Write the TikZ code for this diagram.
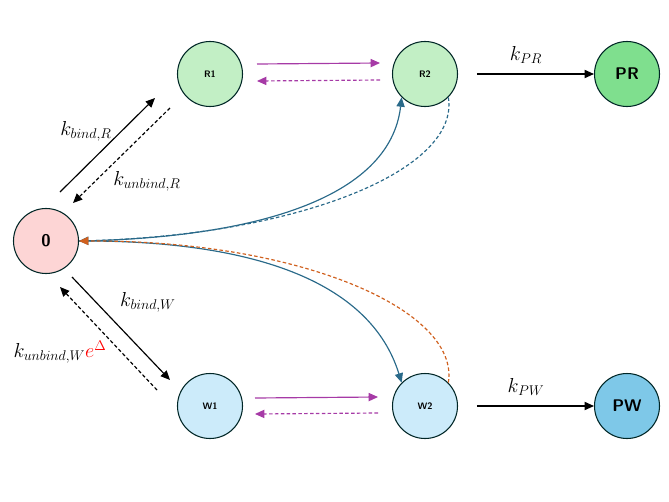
\documentclass[tikz,border=0pt]{standalone}
\usetikzlibrary{arrows.meta}
\begin{document}
\begin{tikzpicture}[x=0.03cm,y=-0.03cm,
 st/.style={circle,draw=black!70!teal,line width=0.9pt,minimum size=1.95cm,inner sep=0pt,font=\sffamily\bfseries\footnotesize},
 big/.style={st,font=\sffamily\bfseries\Large},
 ar/.style={-{Triangle[length=8pt,width=7pt]},line width=1pt},
 pu/.style={ar,line width=1pt},
 lab/.style={font=\LARGE},
 dsh/.style={dash pattern=on 3pt off 2pt}]
\useasboundingbox (0,0) rectangle (669,502);
\definecolor{pk}{HTML}{FDD5D5}\definecolor{lg}{HTML}{C2EFC5}\definecolor{dg}{HTML}{7FDF8E}
\definecolor{lb}{HTML}{CCEBFA}\definecolor{db}{HTML}{7EC8E8}\definecolor{tl}{HTML}{2A6A8A}\definecolor{or}{HTML}{D0601E}
\definecolor{pp}{HTML}{A63AA6}
\node[big,fill=pk] (n0) at (46,241) {0};
\node[st,fill=lg] (r1) at (210,74) {R1};
\node[st,fill=lg] (r2) at (425,74) {R2};
\node[big,fill=dg] (pr) at (627,74) {PR};
\node[st,fill=lb] (w1) at (210,406) {W1};
\node[st,fill=lb] (w2) at (425,406) {W2};
\node[big,fill=db] (pw) at (627,406) {PW};
\coordinate (a1) at (60,192);\coordinate (a2) at (155,98);
\coordinate (b1) at (170,108);\coordinate (b2) at (73,203);
\draw[ar] (a1)--(a2); \draw[ar,dsh] (b1)--(b2);
\coordinate (c1) at (72,277);\coordinate (c2) at (170,380);
\coordinate (d1) at (157,390);\coordinate (d2) at (60,287);
\draw[ar] (c1)--(c2); \draw[ar,dsh] (d1)--(d2);
\node[lab] (l1) at (86,131) {$k_{bind,R}$};
\node[lab] (l2) at (147,181) {$k_{unbind,R}$};
\node[lab] (l3) at (148,302) {$k_{bind,W}$};
\node[lab] (l4) at (60,352) {$k_{unbind,W}\textcolor{red}{e^{\Delta}}$};
\coordinate (p1) at (257,64);\coordinate (p2) at (380,63);
\coordinate (p3) at (380,80);\coordinate (p4) at (257,81);
\draw[pu,pp] (p1)--(p2); \draw[pu,pp,dsh] (p3)--(p4);
\coordinate (q1) at (255,398);\coordinate (q2) at (378,397);
\coordinate (q3) at (378,413);\coordinate (q4) at (255,414);
\draw[pu,pp] (q1)--(q2); \draw[pu,pp,dsh] (q3)--(q4);
\draw[ar,shorten <=16pt] (r2)--(pr) node[midway,above=5pt,lab] {$k_{PR}$};
\draw[ar,shorten <=16pt] (w2)--(pw) node[midway,above=5pt,lab] {$k_{PW}$};
\draw[ar,tl] (n0.east) .. controls (250,238) and (390,200) .. (r2.south west);
\draw[ar,tl,dsh] (r2.south east) .. controls (460,170) and (300,235) .. (n0.east);
\draw[ar,tl] (n0.east) .. controls (250,240) and (370,280) .. (w2.north west);
\draw[ar,or,dsh] (w2.north east) .. controls (460,310) and (300,240) .. (n0.east);
\end{tikzpicture}
\end{document}
